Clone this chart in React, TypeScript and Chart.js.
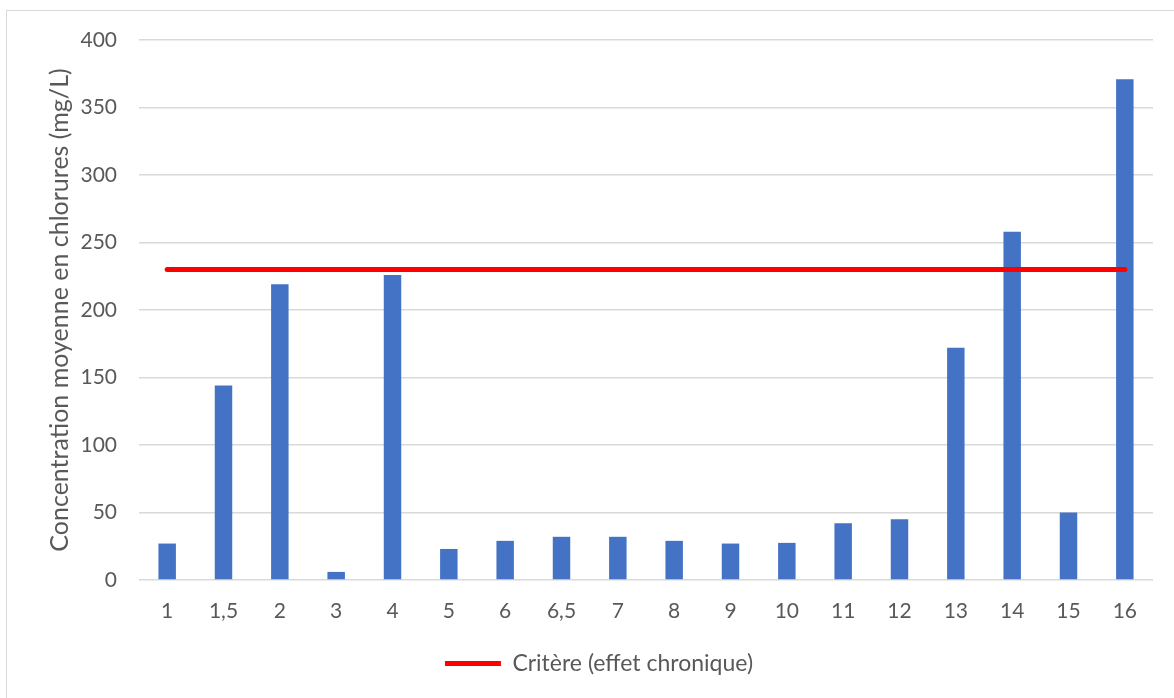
import React, { useEffect, useRef } from "react";
import { Chart, registerables } from "chart.js";

Chart.register(...registerables);

const categories = ["1", "1,5", "2", "3", "4", "5", "6", "6,5", "7", "8", "9", "10", "11", "12", "13", "14", "15", "16"];
const concentrations = [27, 144, 219, 6, 226, 23, 29, 32, 32, 29, 27, 27.5, 42, 45, 172, 258, 50, 371];
const criterionValue = 230;
const criterionLabel = "Critère (effet chronique)";
const yTitle = "Concentration moyenne en chlorures (mg/L)";

const TEXT = "#595959";
const FONT = "Lato";

export default function App() {
  const ref = useRef<HTMLCanvasElement | null>(null);

  useEffect(() => {
    document.body.style.margin = "0";
    document.body.style.overflow = "hidden";
    const ctx = ref.current!;
    const chart = new Chart(ctx, {
      type: "bar",
      data: {
        labels: categories,
        datasets: [
          {
            type: "line",
            label: criterionLabel,
            data: categories.map(() => criterionValue),
            borderColor: "#FF0000",
            backgroundColor: "#FF0000",
            borderWidth: 5,
            borderCapStyle: "round",
            pointRadius: 0,
            pointStyle: "line",
            order: 0,
          } as any,
          {
            type: "bar",
            label: "Concentration",
            data: concentrations,
            backgroundColor: "#4472C4",
            borderWidth: 0,
            categoryPercentage: 1,
            barPercentage: 0.31,
            order: 1,
          },
        ],
      },
      options: {
        animation: false,
        responsive: false,
        maintainAspectRatio: false,
        layout: { padding: { left: 45, right: 21, top: 40, bottom: 13 } },
        plugins: {
          tooltip: { enabled: false },
          legend: {
            position: "bottom",
            labels: {
              filter: (item) => item.text === criterionLabel,
              usePointStyle: true,
              pointStyleWidth: 56,
              color: TEXT,
              font: { family: FONT, size: 23 },
              padding: 20,
            },
          },
        },
        scales: {
          x: {
            grid: { display: false, drawTicks: false },
            border: { display: false },
            ticks: { color: TEXT, font: { family: FONT, size: 21 }, padding: 19, maxRotation: 0, autoSkip: false },
            afterFit: (s: any) => { s.height = 52; },
          },
          y: {
            min: 0,
            max: 400,
            ticks: { stepSize: 50, color: TEXT, font: { family: FONT, size: 21 }, padding: 22 },
            grid: { color: "#D9D9D9", lineWidth: 1.5, drawTicks: false },
            border: { display: false },
            title: {
              display: true,
              text: yTitle,
              color: TEXT,
              font: { family: FONT, size: 25 },
              padding: { top: 0, bottom: 0 },
            },
            afterFit: (s: any) => { s.width = 94; },
          },
        },
      },
    });
    return () => chart.destroy();
  }, []);

  return (
    <div style={{ position: "fixed", left: 0, top: 0, width: 1174, height: 698, overflow: "hidden", background: "#fff" }}>
      <div style={{ position: "absolute", left: 6, top: 10, width: 1200, height: 720, border: "1.5px solid #D9D9D9", boxSizing: "border-box" }} />
      <canvas ref={ref} width={1174} height={698} style={{ position: "absolute", left: 0, top: 0 }} />
    </div>
  );
}
